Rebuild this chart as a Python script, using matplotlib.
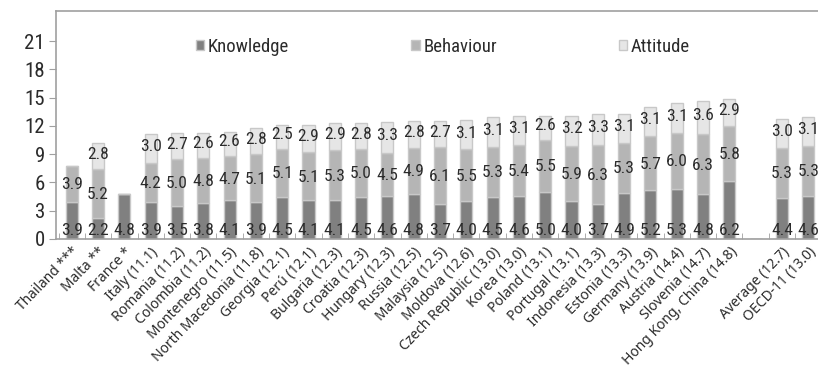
import numpy as np
import matplotlib
matplotlib.use("Agg")
import matplotlib.pyplot as plt
from matplotlib import font_manager

# data (None = no segment)
countries = ["Thailand ***", "Malta **", "France *", "Italy (11.1)", "Romania (11.2)",
             "Colombia (11.2)", "Montenegro (11.5)", "North Macedonia (11.8)", "Georgia (12.1)",
             "Perú (12.1)", "Bulgaria (12.3)", "Croatia (12.3)", "Hungary (12.3)", "Russia (12.5)",
             "Malaysia (12.5)", "Moldova (12.6)", "Czech Republic (13.0)", "Korea (13.0)",
             "Poland (13.1)", "Portugal (13.1)", "Indonesia (13.3)", "Estonia (13.3)",
             "Germany (13.9)", "Austria (14.4)", "Slovenia (14.7)", "Hong Kong, China (14.8)",
             "", "Average (12.7)", "OECD-11 (13.0)"]
knowledge = [3.9, 2.2, 4.8, 3.9, 3.5, 3.8, 4.1, 3.9, 4.5, 4.1, 4.1, 4.5, 4.6, 4.8, 3.7,
             4.0, 4.5, 4.6, 5.0, 4.0, 3.7, 4.9, 5.2, 5.3, 4.8, 6.2, None, 4.4, 4.6]
behaviour = [3.9, 5.2, None, 4.2, 5.0, 4.8, 4.7, 5.1, 5.1, 5.1, 5.3, 5.0, 4.5, 4.9, 6.1,
             5.5, 5.3, 5.4, 5.5, 5.9, 6.3, 5.3, 5.7, 6.0, 6.3, 5.8, None, 5.3, 5.3]
attitude = [None, 2.8, None, 3.0, 2.7, 2.6, 2.6, 2.8, 2.5, 2.9, 2.9, 2.8, 3.3, 2.8, 2.7,
            3.1, 3.1, 3.1, 2.6, 3.2, 3.3, 3.1, 3.1, 3.1, 3.6, 2.9, None, 3.0, 3.1]
yticks = [0, 3, 6, 9, 12, 15, 18, 21]

names = {f.name for f in font_manager.fontManager.ttflist}
narrow = "Liberation Sans"
for cand in ["Liberation Sans Narrow", "Roboto Condensed", "Open Sans Condensed",
             "Noto Sans Condensed", "Liberation Sans"]:
    if cand in names:
        narrow = cand
        break
tickfont = "Noto Sans" if "Noto Sans" in names else "DejaVu Sans"

k = np.array([v if v is not None else 0 for v in knowledge])
b = np.array([v if v is not None else 0 for v in behaviour])
a = np.array([v if v is not None else 0 for v in attitude])
x = np.arange(len(countries))

fig = plt.figure(figsize=(8.18, 3.83), dpi=100)
ax = fig.add_axes([56 / 818, 1 - 239 / 383, 768 / 818, 228 / 383])

edge = "#c8c8c8"
w = 0.46
ax.bar(x, k, w, color="#808080", edgecolor=edge, linewidth=1, label="Knowledge")
ax.bar(x, b, w, bottom=k, color="#b5b5b5", edgecolor=edge, linewidth=1, label="Behaviour")
ax.bar(x, a, w, bottom=k + b, color="#e6e6e6", edgecolor=edge, linewidth=1, label="Attitude")

tc = "#2b2b2b"
fs = 12.5
for i in x:
    if knowledge[i] is not None:
        ax.text(i, 0.1, f"{knowledge[i]:.1f}", ha="center", va="bottom",
                fontsize=fs, family=narrow, color=tc)
    if behaviour[i] is not None:
        ax.text(i, k[i] + b[i] / 2 - 0.1, f"{behaviour[i]:.1f}", ha="center", va="center",
                fontsize=fs, family=narrow, color=tc)
    if attitude[i] is not None:
        ax.text(i, k[i] + b[i] + a[i] / 2 + 0.2, f"{attitude[i]:.1f}", ha="center", va="center",
                fontsize=fs, family=narrow, color=tc)

ax.set_xlim(-0.6, len(countries) - 0.4)
ax.set_ylim(0, 24.2)
ax.set_yticks(yticks)
ax.set_yticklabels([str(t) for t in yticks], family=narrow, fontsize=15, color=tc)
ax.set_xticks(x)
ax.set_xticklabels(countries, rotation=46, ha="right", rotation_mode="anchor",
                   family=tickfont, fontsize=10, color=tc)
ax.set_xticks(np.arange(len(countries)) - 0.5, minor=True)
ax.tick_params(axis="x", which="major", length=0, pad=4)
ax.tick_params(axis="x", which="minor", length=4, direction="in", color="#a0a0a0")
ax.tick_params(axis="y", length=5, color="#a0a0a0", pad=3)

for s in ax.spines.values():
    s.set_color("#a0a0a0")
    s.set_linewidth(1.2)

leg = ax.legend(loc="upper left", bbox_to_anchor=(0.16, 0.955), ncol=3, frameon=False,
                columnspacing=6.5, handlelength=0.45, handleheight=0.45, handletextpad=0.2,
                prop={"family": narrow, "size": 13.5})
for t in leg.get_texts():
    t.set_color(tc)

plt.savefig("out.png", dpi=100)
